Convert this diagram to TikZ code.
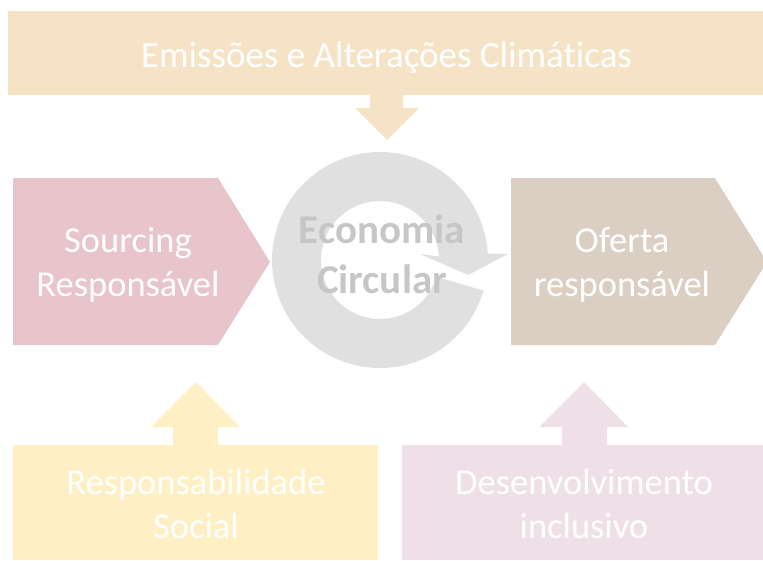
\documentclass[tikz,border=0pt]{standalone}
\usepackage{fontspec}
\setmainfont{Carlito}[RawFeature={-liga;-calt;-clig;-dlig}]
\usetikzlibrary{calc}
\definecolor{bannerc}{HTML}{F6E3C6}
\definecolor{pinkc}{HTML}{E8C4CB}
\definecolor{tanc}{HTML}{DBCFC3}
\definecolor{yellowc}{HTML}{FEEFC4}
\definecolor{lilacc}{HTML}{EFE0E8}
\definecolor{ringc}{HTML}{E0E0E0}
\definecolor{ringtext}{HTML}{C6C6C6}
\tikzset{
  lbl/.style={text=white, align=center, inner sep=0pt, font=\fontsize{36.5}{44}\selectfont},
  circlbl/.style={text=ringtext, align=center, inner sep=0pt, font=\fontsize{41}{50}\selectfont\bfseries},
}
\begin{document}
\begin{tikzpicture}[x=1pt,y=-1pt]
\useasboundingbox (0,0) rectangle (763,560);
\clip (0,0) rectangle (763,560);
% top banner and down arrow
\fill[bannerc] (8,11) rectangle (763,95);
\fill[bannerc] (370,94) -- (370,108) -- (355,108) -- (387,140) -- (419,108) -- (403,108) -- (403,94) -- cycle;
\node[lbl, anchor=base, font=\fontsize{37}{44}\selectfont] (top) at (386.5,67) {Emissões e Alterações Climáticas};
% left pentagon
\fill[pinkc] (13,178) -- (218,178) -- (270,262) -- (218,345) -- (13,345) -- cycle;
\node[lbl] (src) at (128,265) {Sourcing\\Responsável};
% right pentagon
\fill[tanc] (511,178) -- (715,178) -- (767,262) -- (715,345) -- (511,345) -- cycle;
\node[lbl] (ofe) at (622,265) {Oferta\\responsável};
% circular arrow
\fill[ringc] ($(380,260)+(16.5:108)$) arc[start angle=16.5, end angle=356.5, radius=108]
  -- (508,254) -- (468,275) -- (420,254) -- ($(380,260)+(356.5:59)$)
  arc[start angle=356.5, end angle=16.5, radius=59] -- cycle;
\node[circlbl] (eco) at (382,254) {Economia\\Circular};
% bottom left
\fill[yellowc] (196,382) -- (240,427) -- (218,427) -- (218,446) -- (173,446) -- (173,427) -- (151,427) -- cycle;
\fill[yellowc] (13,445) rectangle (378,560);
\node[lbl] (soc) at (196,504) {Responsabilidade\\Social};
% bottom right
\fill[lilacc] (584,382) -- (628,427) -- (607,427) -- (607,446) -- (562,446) -- (562,427) -- (539,427) -- cycle;
\fill[lilacc] (402,445) rectangle (763,560);
\node[lbl] (des) at (584,504) {Desenvolvimento\\inclusivo};
\end{tikzpicture}
\end{document}
